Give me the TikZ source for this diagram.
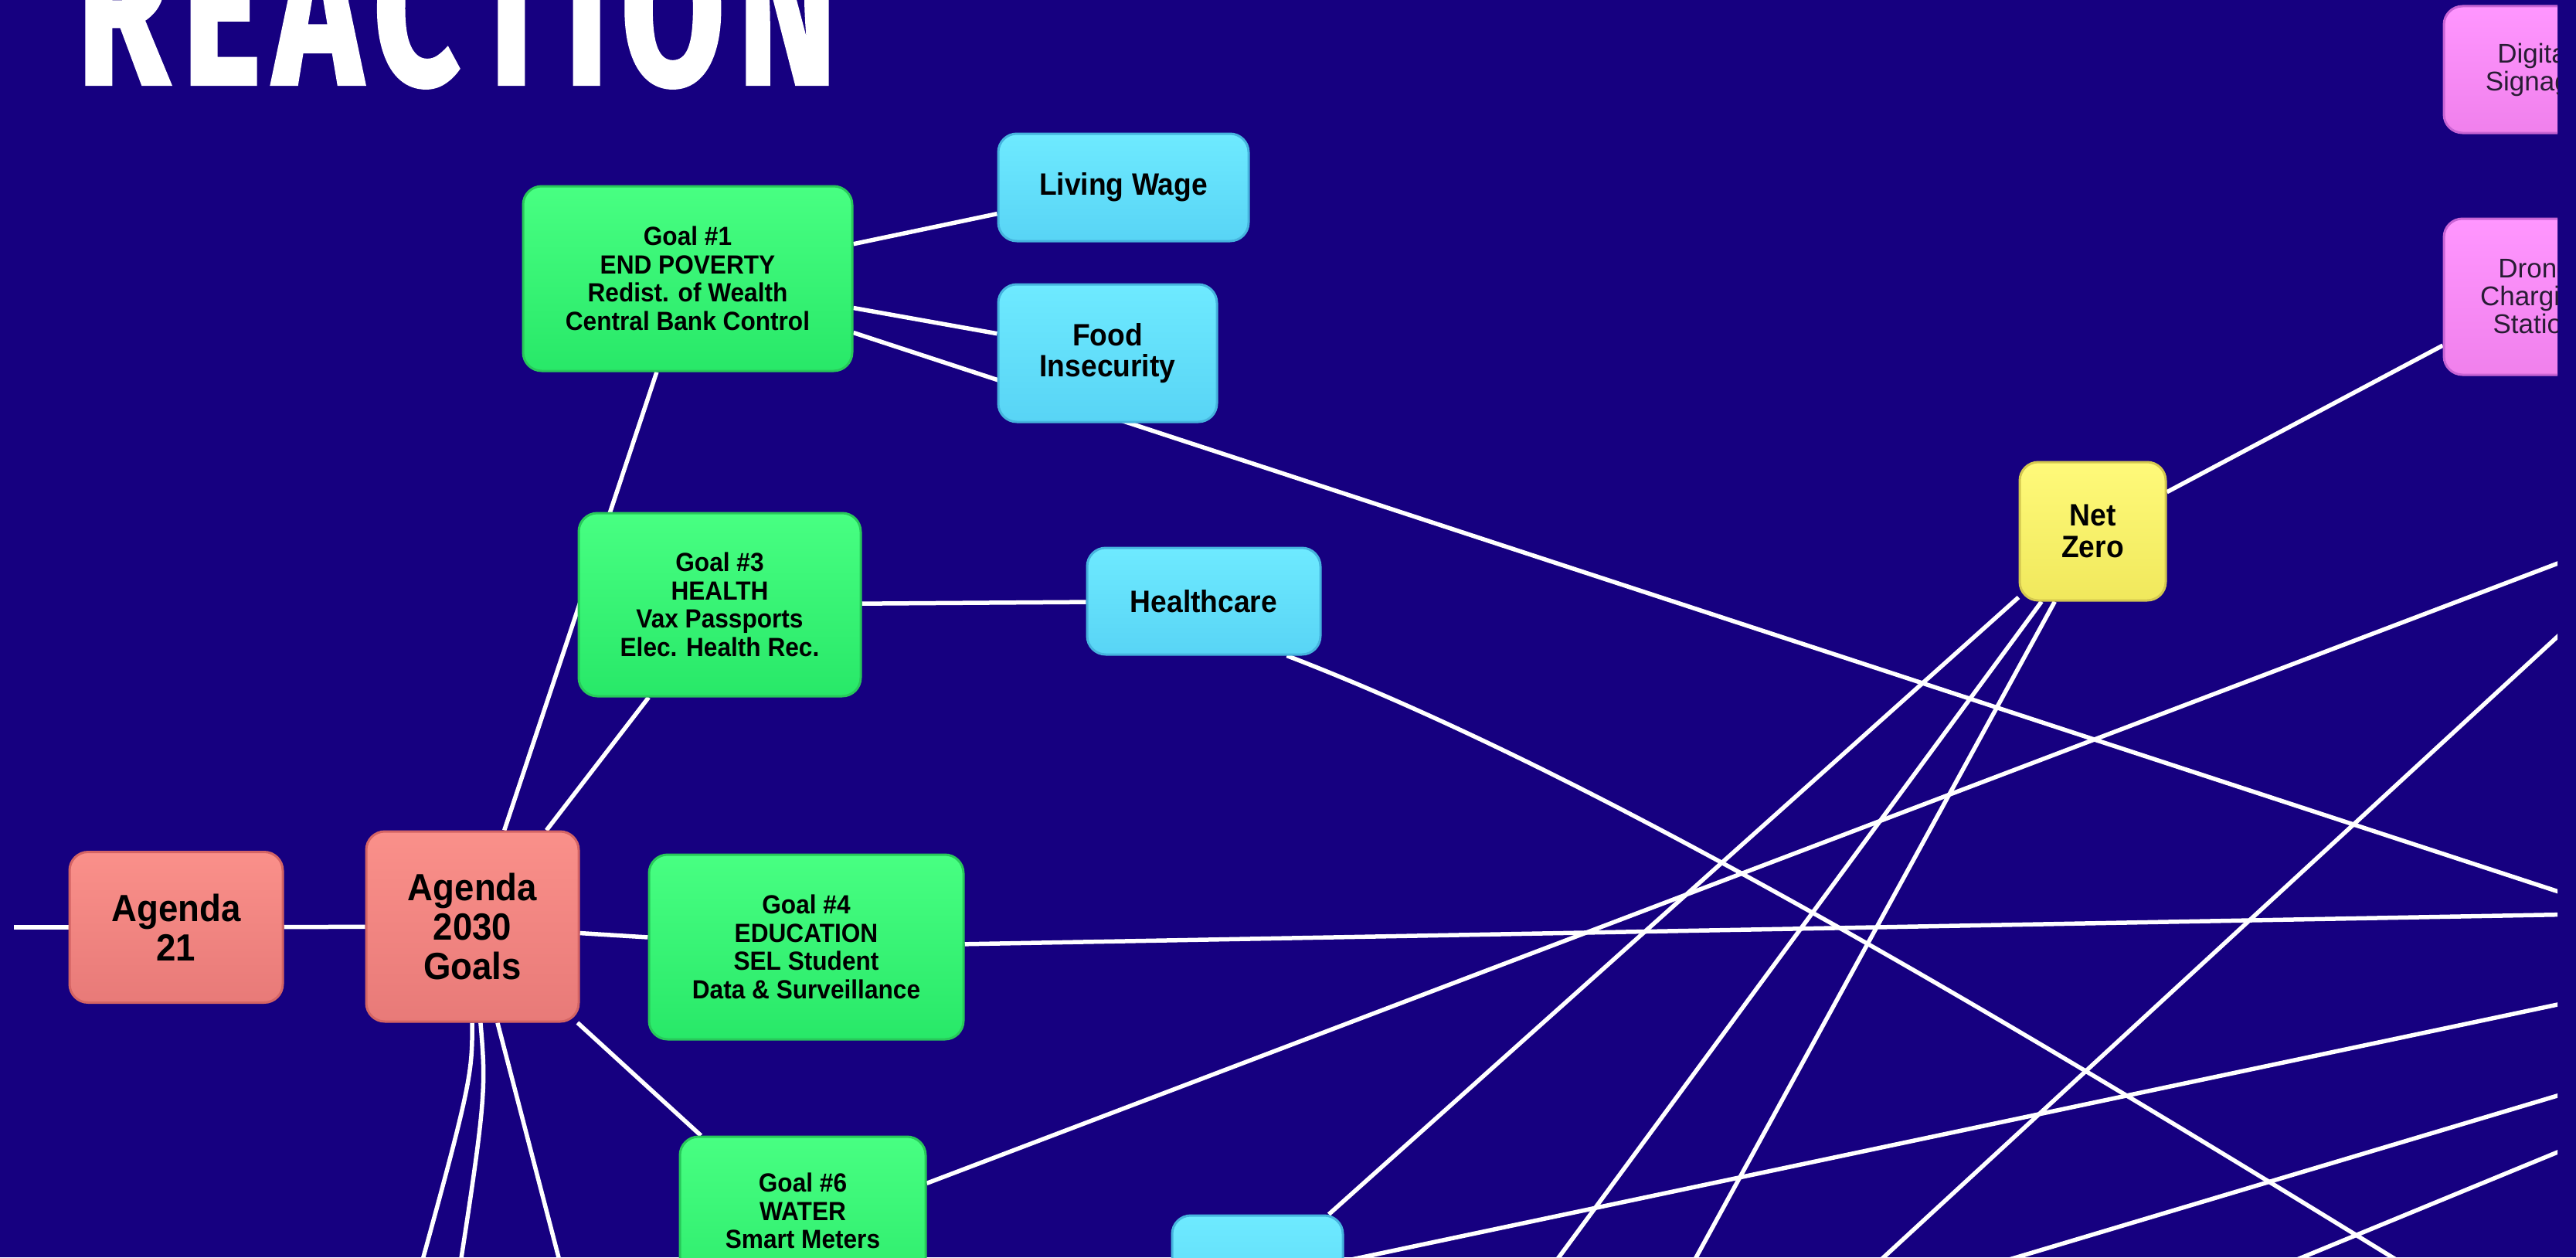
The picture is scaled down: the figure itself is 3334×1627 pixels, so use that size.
\documentclass[tikz,border=0pt]{standalone}
\usepackage{fontspec}
\usepackage{graphicx}
\usetikzlibrary{calc}
\newfontfamily\nodefont{Liberation Sans}[FakeStretch=0.93]
\newfontfamily\pinkfont{Liberation Sans}
\newfontfamily\titlefont{Fira Sans}[LetterSpace=8, FakeBold=1.5]
\definecolor{bgc}{RGB}{22,0,128}
\definecolor{gTop}{RGB}{72,255,130}
\definecolor{gBot}{RGB}{40,232,104}
\definecolor{gBrd}{RGB}{40,200,90}
\definecolor{cTop}{RGB}{110,234,255}
\definecolor{cBot}{RGB}{88,212,245}
\definecolor{cBrd}{RGB}{70,180,222}
\definecolor{sTop}{RGB}{250,144,138}
\definecolor{sBot}{RGB}{232,122,120}
\definecolor{sBrd}{RGB}{212,100,100}
\definecolor{yTop}{RGB}{255,250,122}
\definecolor{yBot}{RGB}{240,232,92}
\definecolor{yBrd}{RGB}{212,200,80}
\definecolor{pTop}{RGB}{255,150,255}
\definecolor{pBot}{RGB}{240,128,236}
\definecolor{pBrd}{RGB}{200,100,212}
\definecolor{pText}{RGB}{40,28,52}
\pgfdeclarelayer{bglayer}
\pgfdeclarelayer{edgelayer}
\pgfsetlayers{bglayer,edgelayer,main}
\tikzset{
  box/.style={rounded corners=24pt, line width=3pt, align=center, inner sep=0pt, text=black},
  gbox/.style={box, top color=gTop, bottom color=gBot, draw=gBrd,
    font=\nodefont\bfseries\fontsize{34}{36.5}\selectfont},
  cbox/.style={box, top color=cTop, bottom color=cBot, draw=cBrd,
    font=\nodefont\bfseries\fontsize{40}{40}\selectfont},
  sbox/.style={box, top color=sTop, bottom color=sBot, draw=sBrd,
    font=\nodefont\bfseries\fontsize{49}{51}\selectfont},
  ybox/.style={box, top color=yTop, bottom color=yBot, draw=yBrd,
    font=\nodefont\bfseries\fontsize{40}{41}\selectfont},
  pbox/.style={box, top color=pTop, bottom color=pBot, draw=pBrd, text=pText,
    font=\pinkfont\fontsize{35}{36}\selectfont},
  link/.style={draw=white, line width=5.5pt}
}
\begin{document}
\begin{tikzpicture}[x=1pt, y=-1pt]
\useasboundingbox (0,0) rectangle (3334,1627);
\begin{pgfonlayer}{bglayer}
  \fill[bgc] (0,0) rectangle (3334,1627);
\end{pgfonlayer}

\begin{scope}
\clip (18,0) rectangle (3310,1627);
% title
\node[anchor=south west, inner sep=0pt, text=white] (title) at (99,114)
  {\resizebox{984pt}{200pt}{\titlefont\bfseries REACTION}};
% green goals
\node[gbox, minimum width=426pt, minimum height=239pt] (goal1) at (890,360.5)
  {Goal \#1\\END POVERTY\\Redist. of Wealth\\Central Bank Control};
\node[gbox, minimum width=365pt, minimum height=237pt] (goal3) at (931.5,782.5)
  {Goal \#3\\HEALTH\\Vax Passports\\Elec. Health Rec.};
\node[gbox, minimum width=407pt, minimum height=239pt] (goal4) at (1043.5,1225.5)
  {Goal \#4\\EDUCATION\\SEL Student\\Data \& Surveillance};
\node[gbox, minimum width=318pt, minimum height=239pt] (goal6) at (1039,1590.5)
  {Goal \#6\\WATER\\Smart Meters\\\strut};
% cyan
\node[cbox, minimum width=324pt, minimum height=139pt] (living) at (1454,242.5) {Living Wage};
\node[cbox, minimum width=283pt, minimum height=178pt] (food) at (1433.5,457) {Food\\Insecurity};
\node[cbox, minimum width=302pt, minimum height=138pt] (health) at (1558,778) {Healthcare};
\node[cbox, minimum width=221pt, minimum height=164pt] (cyanb) at (1627.5,1655) {};
% salmon
\node[sbox, minimum width=276pt, minimum height=195pt] (a21) at (228,1200) {Agenda\\21};
\node[sbox, minimum width=275pt, minimum height=246pt] (a2030) at (611.5,1199) {Agenda\\2030\\Goals};
% yellow
\node[ybox, minimum width=189pt, minimum height=179pt] (netzero) at (2708.5,687.5) {Net\\Zero};
% pink
\node[pbox, minimum width=236pt, minimum height=164pt] (digital) at (3281,90) {Digital\\Signage};
\node[pbox, minimum width=236pt, minimum height=202pt] (drone) at (3281,384) {Drone\\Charging\\Station};
\end{scope}

% off-canvas ends
\coordinate (offL) at (-100,1200);
\coordinate (offG1) at (3400,1183);
\coordinate (offG4) at (3400,1182);
\coordinate (offG6) at (3400,695);
\coordinate (offHC) at (3300,1753);
\coordinate (hcA) at (2086,1010);
\coordinate (hcB) at (2629,1337);
\coordinate (offR1) at (3400,741);
\coordinate (offB1) at (2350,1708);
\coordinate (offR2) at (3400,1391);
\coordinate (offB2) at (2500,1660);
\coordinate (offR3) at (3400,1454);
\coordinate (offB3) at (2900,1660);
\coordinate (offR4) at (3400,1281);
\coordinate (offNA) at (1927,1750);
\coordinate (offNB) at (2128,1750);
\coordinate (offA1) at (500,1800);
\coordinate (ctA1) at (611,1400);
\coordinate (offA2) at (570,1800);
\coordinate (ctA2) at (630,1420);
\coordinate (offA3) at (768,1800);

\begin{pgfonlayer}{edgelayer}
\begin{scope}
\clip (18,0) rectangle (3310,1627);
\draw[link] (offL) -- (a21);
\draw[link] (a21) -- (a2030);
\draw[link] (a2030) -- (goal4);
\draw[link] (a2030) -- (goal1);
\draw[link] (a2030) -- (goal3);
\draw[link] (a2030) -- (goal6);
\draw[link] (a2030) .. controls (ctA1) .. (offA1);
\draw[link] (a2030) .. controls (ctA2) .. (offA2);
\draw[link] (a2030) -- (offA3);
\draw[link] (goal1) -- (living);
\draw[link] (goal1) -- (food);
\draw[link] (goal1) -- (offG1);
\draw[link] (goal3) -- (health);
\draw[link] ([xshift=-45pt]health.south east) .. controls (hcA) and (hcB) .. (offHC);
\draw[link] (goal4) -- (offG4);
\draw[link] (goal6) -- (offG6);
\draw[link] (netzero) -- (drone);
\draw[link] (netzero) -- (cyanb);
\draw[link] (netzero) -- (offNA);
\draw[link] (netzero) -- (offNB);
\draw[link] (cyanb) -- (offR4);
\draw[link] (offR1) -- (offB1);
\draw[link] (offR2) -- (offB2);
\draw[link] (offR3) -- (offB3);
\end{scope}
\end{pgfonlayer}
\end{tikzpicture}
\end{document}
